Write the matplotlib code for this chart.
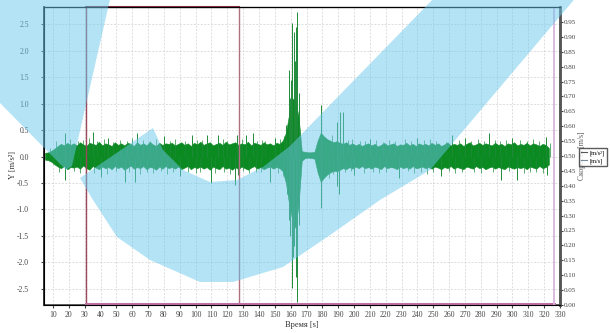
import numpy as np
import matplotlib
matplotlib.use('Agg')
import matplotlib.pyplot as plt
from matplotlib.patches import Polygon
from matplotlib.lines import Line2D

plt.rcParams['font.family'] = ['Liberation Serif', 'DejaVu Serif']

# sample times of the envelope (s)
times = np.arange(5, 325, 2)

# upper / lower envelope of the acceleration trace
upper = [
    0.07, 0.08, 0.11, 0.15, 0.20, 0.24, 0.21, 0.26, 0.22, 0.25,
    0.21, 0.27, 0.23, 0.20, 0.26, 0.24, 0.22, 0.28, 0.21, 0.25,
    0.23, 0.20, 0.27, 0.22, 0.25, 0.21, 0.26, 0.24, 0.20, 0.27,
    0.22, 0.25, 0.21, 0.28, 0.23, 0.20, 0.26, 0.22, 0.25, 0.24,
    0.26, 0.21, 0.24, 0.27, 0.22, 0.25, 0.20, 0.26, 0.23, 0.28,
    0.22, 0.25, 0.27, 0.21, 0.24, 0.26, 0.22, 0.28, 0.23, 0.25,
    0.27, 0.22, 0.25, 0.23, 0.28, 0.21, 0.26, 0.24, 0.22, 0.27,
    0.23, 0.25, 0.21, 0.26, 0.24, 0.30, 0.45, 0.80, 1.10, 1.05,
    0.75, 0.10, 0.09, 0.08, 0.08, 0.09, 0.30, 0.45, 0.38, 0.33,
    0.30, 0.27, 0.29, 0.26, 0.24, 0.27, 0.22, 0.25, 0.21, 0.24,
    0.20, 0.23, 0.25, 0.21, 0.24, 0.19, 0.22, 0.26, 0.21, 0.23,
    0.25, 0.20, 0.23, 0.22, 0.26, 0.21, 0.24, 0.20, 0.25, 0.22,
    0.24, 0.21, 0.26, 0.22, 0.25, 0.20, 0.23, 0.27, 0.21, 0.24,
    0.22, 0.25, 0.20, 0.24, 0.27, 0.21, 0.23, 0.26, 0.22, 0.25,
    0.23, 0.21, 0.26, 0.22, 0.24, 0.20, 0.25, 0.23, 0.27, 0.21,
    0.24, 0.22, 0.26, 0.21, 0.25, 0.23, 0.20, 0.24, 0.22, 0.16,
]
lower = [
    -0.06, -0.07, -0.10, -0.15, -0.19, -0.22, -0.18, -0.24, -0.20, -0.21,
    -0.19, -0.23, -0.17, -0.22, -0.25, -0.18, -0.21, -0.24, -0.19, -0.22,
    -0.20, -0.24, -0.18, -0.22, -0.19, -0.25, -0.21, -0.17, -0.23, -0.20,
    -0.22, -0.18, -0.24, -0.20, -0.21, -0.25, -0.19, -0.23, -0.18, -0.22,
    -0.20, -0.23, -0.19, -0.24, -0.21, -0.18, -0.24, -0.20, -0.22, -0.19,
    -0.23, -0.20, -0.25, -0.19, -0.22, -0.24, -0.18, -0.23, -0.21, -0.25,
    -0.20, -0.24, -0.19, -0.22, -0.25, -0.21, -0.18, -0.23, -0.20, -0.24,
    -0.21, -0.19, -0.23, -0.20, -0.22, -0.28, -0.50, -0.90, -1.20, -1.35,
    -0.90, -0.08, -0.03, -0.02, -0.03, -0.04, -0.30, -0.48, -0.40, -0.34,
    -0.30, -0.27, -0.28, -0.25, -0.22, -0.24, -0.20, -0.23, -0.19, -0.22,
    -0.18, -0.22, -0.20, -0.23, -0.19, -0.21, -0.24, -0.18, -0.22, -0.20,
    -0.21, -0.24, -0.19, -0.22, -0.20, -0.23, -0.18, -0.22, -0.21, -0.19,
    -0.22, -0.20, -0.23, -0.19, -0.21, -0.24, -0.20, -0.22, -0.18, -0.23,
    -0.20, -0.22, -0.24, -0.19, -0.21, -0.23, -0.18, -0.22, -0.20, -0.24,
    -0.21, -0.19, -0.23, -0.20, -0.22, -0.24, -0.19, -0.21, -0.23, -0.20,
    -0.22, -0.20, -0.24, -0.19, -0.21, -0.23, -0.18, -0.22, -0.20, -0.15,
]

# large single peaks
spike_t = [17.6, 35.2, 45, 63.3, 80, 98, 107, 114, 126, 132, 136, 150,
           157, 158.9, 159.5, 160.3, 161.0, 162.0, 162.5, 163.5, 164.1, 165,
           179.4, 189, 191, 193,
           210, 240, 262, 270, 285, 300, 321,
           17.6, 40, 55.4, 61.7, 90, 110, 124.6, 126.5, 146.7,
           157.5, 158.7, 159.4, 160.6, 161.5, 162.4, 163.6, 164.3, 165.2,
           179.4, 189, 190.8, 200, 228.6,
           255, 293, 303, 322]
spike_v = [0.45, 0.46, 0.35, 0.44, 0.38, 0.41, 0.41, 0.41, 0.41, 0.41, 0.45, 0.36,
           0.60, 1.64, 1.10, 1.45, 2.53, 2.36, 1.80, 2.45, 2.74, 1.20,
           0.97, 0.65, 0.84, 0.84,
           0.34, 0.36, 0.41, 0.35, 0.44, 0.35, 0.37,
           -0.45, -0.38, -0.48, -0.48, -0.36, -0.50, -0.54, -0.35, -0.48,
           -0.70, -1.20, -1.50, -2.49, -1.90, -1.70, -2.28, -2.75, -1.30,
           -0.98, -0.55, -0.70, -0.35, -0.41,
           -0.36, -0.45, -0.45, -0.35]

# small peaks that make the ragged edge of the band
small_up_t = [8, 12, 21, 26, 29, 33, 38, 42, 48, 52,
              57, 60, 67, 71, 75, 84, 87, 93, 101, 104,
              117, 120, 129, 139, 142, 144, 153, 156, 186, 196,
              199, 204, 207, 214, 218, 222, 226, 232, 236, 244,
              248, 252, 258, 266, 274, 278, 282, 289, 292, 296,
              305, 309, 313, 317, 324]
small_up_v = [0.16, 0.30, 0.33, 0.29, 0.31, 0.36, 0.30, 0.33, 0.28, 0.32,
              0.30, 0.35, 0.31, 0.29, 0.33, 0.30, 0.34, 0.29, 0.32, 0.31,
              0.33, 0.30, 0.34, 0.30, 0.32, 0.29, 0.33, 0.38, 0.40, 0.31,
              0.33, 0.29, 0.30, 0.32, 0.28, 0.31, 0.30, 0.33, 0.29, 0.31,
              0.34, 0.30, 0.28, 0.32, 0.30, 0.33, 0.29, 0.31, 0.30, 0.32,
              0.31, 0.29, 0.33, 0.30, 0.25]
small_dn_t = [10, 14, 23, 27, 31, 36, 44, 50, 58, 65,
              69, 73, 78, 82, 86, 95, 100, 103, 112, 118,
              122, 130, 134, 138, 141, 152, 155, 184, 187, 194,
              198, 206, 212, 216, 220, 234, 238, 242, 246, 250,
              260, 264, 268, 276, 280, 288, 298, 307, 311, 315,
              319]
small_dn_v = [-0.15, -0.30, -0.28, -0.32, -0.29, -0.31, -0.33, -0.28, -0.30, -0.34,
              -0.29, -0.31, -0.28, -0.33, -0.30, -0.29, -0.32, -0.30, -0.31, -0.29,
              -0.33, -0.28, -0.32, -0.30, -0.29, -0.31, -0.36, -0.40, -0.34, -0.30,
              -0.28, -0.31, -0.29, -0.32, -0.30, -0.28, -0.31, -0.29, -0.33, -0.30,
              -0.28, -0.31, -0.30, -0.29, -0.32, -0.30, -0.28, -0.31, -0.29, -0.30,
              -0.32]

# selection / cursor positions (s)
sel_start, sel_end, cursor = 30.8, 127.2, 326.0

x_ticks = list(range(10, 331, 10))
y_ticks = [-2.5, -2.0, -1.5, -1.0, -0.5, 0.0, 0.5, 1.0, 1.5, 2.0, 2.5]
y2_ticks = [i * 0.05 for i in range(20)]

# watermark outline (figure pixels)
mark_left = [(0, -5), (111, -5), (72, 166), (66, 170), (0, 103)]
mark_swoosh = [(153, 128), (163, 150), (183, 170), (210, 182), (237, 180),
               (263, 167), (290, 146), (437, -5), (578, -5), (430, 170),
               (380, 200), (333, 233), (283, 267), (233, 282), (200, 282),
               (150, 260), (117, 237), (93, 200), (80, 178)]

fig = plt.figure(figsize=(6.1, 3.33), dpi=100)
ax = fig.add_axes([44 / 610, 1 - 305 / 333, (560 - 44) / 610, (305 - 7) / 333])

ax.set_xlim(4.3, 330)
ax.set_ylim(-2.81, 2.83)

ax.grid(True, color='#d2d2d2', linestyle=(0, (3, 2)), linewidth=0.5)
ax.set_axisbelow(True)

green = '#0b8a22'
ax.fill_between(times, lower, upper, color=green, linewidth=0.4, edgecolor=green, zorder=3)
ax.vlines(small_up_t, 0, small_up_v, color='#1d8a38', linewidth=0.5, zorder=3)
ax.vlines(small_dn_t, 0, small_dn_v, color='#1d8a38', linewidth=0.5, zorder=3)
ax.vlines(spike_t, 0, spike_v, color='#1d8a38', linewidth=0.7, zorder=3)

# selection frame
ax.axvline(sel_start, color='#9a4a5a', linewidth=1.0, zorder=4)
ax.axvline(sel_end, color='#b07080', linewidth=1.0, zorder=4)
ax.plot([sel_start, sel_end], [2.83, 2.83], color='#8a3040', linewidth=1.5, zorder=4, clip_on=False)
ax.plot([sel_start, cursor], [-2.80, -2.80], color='#c070a8', linewidth=2.2, zorder=4, clip_on=False)
ax.axvline(cursor, color='#d8b4dc', linewidth=1.3, zorder=4)

ax.set_xticks(x_ticks)
ax.set_xticklabels([str(v) for v in x_ticks])
ax.set_yticks(y_ticks)
ax.set_yticklabels(['%.1f' % v for v in y_ticks])
ax.tick_params(axis='x', labelsize=5.5, length=2, pad=2, colors='#444444')
ax.tick_params(axis='y', labelsize=5.5, length=2, pad=9, colors='#444444')

for side, col, lw in [('left', '#333333', 1.4), ('bottom', '#444444', 1.2),
                      ('top', '#666666', 1.0), ('right', '#555555', 1.8)]:
    ax.spines[side].set_color(col)
    ax.spines[side].set_linewidth(lw)

ax.set_xlabel('Время [s]', fontsize=6, color='#333333', labelpad=2)
ax.set_ylabel('Y [m/s²]', fontsize=6, color='#333333', labelpad=0)
ax.yaxis.set_label_coords(-0.053, 0.47)

ax2 = ax.twinx()
ax2.set_ylim(0, 1.0)
ax2.set_yticks(y2_ticks)
ax2.set_yticklabels(['%.2f' % v for v in y2_ticks])
ax2.tick_params(axis='y', labelsize=5, length=2, pad=1, colors='#444444')
ax2.spines['right'].set_color('#555555')
ax2.spines['right'].set_linewidth(1.8)
ax2.set_ylabel('Скорость [m/s]', fontsize=5.5, color='#555555', labelpad=1)

handles = [Line2D([], [], color='#555555', linewidth=0.8),
           Line2D([], [], color='#7a8a9a', linewidth=0.8)]
fig.legend(handles, ['[m/s²]', '[m/s]'], loc='upper left',
           bbox_to_anchor=(579 / 610, 1 - 148 / 333), fontsize=4.5,
           frameon=True, fancybox=False, edgecolor='#333333',
           handlelength=1.0, handletextpad=0.4, borderpad=0.3,
           labelspacing=0.4, borderaxespad=0)

# watermark on top of everything
ov = fig.add_axes([0, 0, 1, 1], zorder=10)
ov.set_xlim(0, 610)
ov.set_ylim(333, 0)
ov.axis('off')
ov.patch.set_alpha(0)
for shape in (mark_left, mark_swoosh):
    ov.add_patch(Polygon(shape, closed=True, facecolor='#69c9ed', alpha=0.5, edgecolor='none'))

fig.savefig('out.png', dpi=100)
